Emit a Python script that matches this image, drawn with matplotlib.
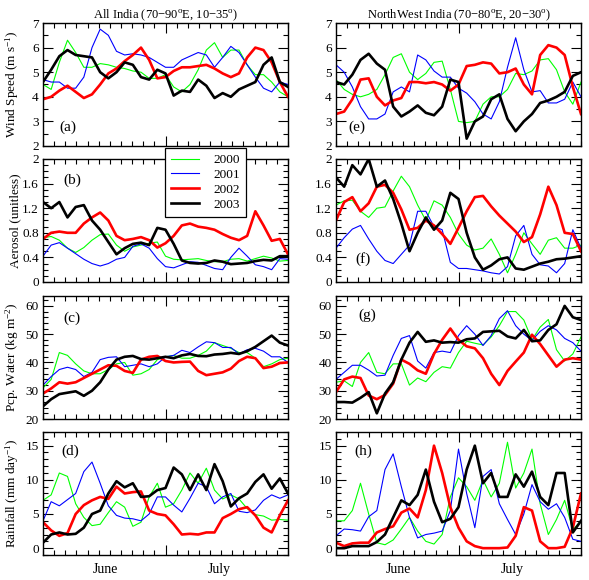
import numpy as np
import matplotlib
matplotlib.use("Agg")
import matplotlib.pyplot as plt
from matplotlib.ticker import MultipleLocator, FixedLocator, FormatStrFormatter

plt.rcParams['font.family'] = ['Liberation Serif', 'DejaVu Serif']
plt.rcParams['mathtext.fontset'] = 'custom'
plt.rcParams['mathtext.rm'] = 'Liberation Serif'
plt.rcParams['mathtext.it'] = 'Liberation Serif:italic'

years = ["2000", "2001", "2002", "2003"]
colors = ["#00ff00", "#0000ff", "#ff0000", "#000000"]
widths = [0.8, 0.8, 1.9, 1.9]

months = ["June", "July"]
month_pos = [5.6, 15.8]

# wind speed (m/s)
wind_all_2000 = [4.5, 4.3, 5.4, 6.3, 5.8, 5.2, 5.2, 5.35, 5.3, 5.2, 5.15, 5.05, 5.0, 4.75, 4.75, 4.9, 4.4, 4.2, 4.5, 5.1, 5.9, 6.2, 5.6, 5.9, 5.9, 5.3, 4.9, 4.9, 4.6, 4.2, 4.0]
wind_all_2001 = [4.7, 4.6, 4.6, 4.35, 4.35, 4.8, 6.0, 6.75, 6.5, 5.85, 5.7, 5.75, 5.7, 5.6, 5.4, 5.2, 5.2, 5.5, 5.65, 5.8, 5.7, 5.2, 5.6, 6.05, 5.8, 5.3, 4.8, 4.35, 4.2, 4.6, 4.5]
wind_all_2002 = [3.9, 4.0, 4.25, 4.45, 4.2, 3.95, 4.1, 4.5, 4.95, 5.15, 5.45, 5.7, 6.0, 5.5, 4.75, 4.8, 5.05, 5.2, 5.2, 5.25, 5.3, 5.15, 4.95, 4.8, 4.95, 5.6, 6.0, 5.9, 5.4, 4.6, 4.0]
wind_all_2003 = [4.6, 5.1, 5.65, 5.9, 5.7, 5.65, 5.6, 5.0, 4.75, 5.0, 5.4, 5.3, 4.8, 4.7, 5.1, 4.95, 4.05, 4.25, 4.2, 4.7, 4.45, 3.95, 4.15, 4.0, 4.3, 4.45, 4.6, 5.3, 5.6, 4.6, 4.4]
wind_nw_2000 = [4.7, 4.3, 4.1, 4.0, 4.1, 4.3, 4.9, 5.6, 5.75, 5.0, 4.7, 4.95, 5.4, 5.45, 4.3, 3.0, 2.95, 3.0, 3.7, 4.0, 4.0, 4.3, 4.95, 4.9, 5.05, 5.5, 5.55, 5.1, 4.2, 3.7, 4.6]
wind_nw_2001 = [5.3, 5.0, 4.4, 3.6, 3.1, 3.1, 3.3, 4.2, 4.4, 4.2, 5.7, 5.5, 5.05, 4.8, 4.8, 4.35, 4.15, 3.8, 3.3, 3.1, 3.8, 5.2, 6.4, 5.1, 4.2, 4.25, 3.75, 3.75, 3.9, 4.6, 4.0]
wind_nw_2002 = [3.3, 3.4, 3.9, 4.7, 4.75, 4.0, 3.65, 3.85, 3.95, 4.6, 4.6, 4.55, 4.6, 4.5, 4.25, 4.5, 5.25, 5.3, 5.4, 5.35, 4.95, 5.0, 5.15, 4.5, 4.1, 5.7, 6.1, 6.0, 5.7, 4.4, 3.3]
wind_nw_2003 = [4.6, 4.5, 4.9, 5.5, 5.75, 5.35, 5.1, 3.6, 3.2, 3.4, 3.65, 3.35, 3.25, 3.6, 4.7, 4.6, 2.3, 3.0, 3.2, 3.9, 4.1, 3.1, 2.6, 3.0, 3.3, 3.75, 3.85, 4.0, 4.2, 4.85, 5.0]

# aerosol (unitless)
aer_all_2000 = [0.72, 0.74, 0.68, 0.55, 0.48, 0.56, 0.68, 0.77, 0.78, 0.6, 0.5, 0.57, 0.6, 0.63, 0.65, 0.42, 0.37, 0.36, 0.37, 0.38, 0.35, 0.33, 0.33, 0.37, 0.38, 0.34, 0.38, 0.42, 0.39, 0.34, 0.35]
aer_all_2001 = [0.42, 0.6, 0.64, 0.55, 0.46, 0.37, 0.3, 0.26, 0.3, 0.37, 0.4, 0.58, 0.62, 0.55, 0.38, 0.25, 0.23, 0.28, 0.33, 0.32, 0.27, 0.22, 0.2, 0.4, 0.55, 0.42, 0.28, 0.25, 0.2, 0.38, 0.37]
aer_all_2002 = [0.7, 0.8, 0.82, 0.8, 0.8, 0.95, 1.05, 1.13, 1.0, 0.75, 0.68, 0.7, 0.73, 0.68, 0.56, 0.63, 0.75, 0.92, 0.95, 0.9, 0.88, 0.85, 0.78, 0.72, 0.68, 0.75, 1.15, 0.92, 0.67, 0.7, 0.45]
aer_all_2003 = [1.3, 1.2, 1.3, 1.05, 1.22, 1.25, 1.0, 0.85, 0.65, 0.45, 0.55, 0.62, 0.64, 0.6, 0.88, 0.85, 0.62, 0.35, 0.31, 0.3, 0.31, 0.35, 0.33, 0.29, 0.3, 0.31, 0.34, 0.36, 0.35, 0.42, 0.42]
aer_nw_2000 = [1.25, 1.32, 1.33, 1.15, 1.05, 1.2, 1.22, 1.48, 1.72, 1.55, 1.25, 1.0, 1.32, 1.25, 1.05, 0.78, 0.6, 0.52, 0.55, 0.7, 0.45, 0.15, 0.45, 0.8, 0.62, 0.45, 0.68, 0.72, 0.55, 0.55, 0.6]
aer_nw_2001 = [0.55, 0.72, 0.86, 0.92, 0.7, 0.5, 0.35, 0.3, 0.45, 0.6, 1.15, 1.15, 0.9, 0.85, 0.32, 0.22, 0.22, 0.2, 0.18, 0.15, 0.13, 0.25, 0.75, 0.92, 0.45, 0.28, 0.26, 0.15, 0.3, 0.85, 0.55]
aer_nw_2002 = [1.0, 1.3, 1.38, 1.15, 1.28, 1.55, 1.58, 1.45, 1.18, 0.85, 0.88, 1.0, 0.92, 0.78, 0.62, 0.88, 1.15, 1.38, 1.4, 1.23, 1.08, 0.95, 0.82, 0.65, 0.73, 1.1, 1.55, 1.25, 0.8, 0.78, 0.5]
aer_nw_2003 = [1.7, 1.55, 1.9, 1.75, 2.0, 1.55, 1.65, 1.35, 0.95, 0.5, 0.8, 1.05, 0.85, 1.0, 1.45, 1.35, 0.8, 0.4, 0.2, 0.27, 0.37, 0.4, 0.22, 0.2, 0.25, 0.3, 0.33, 0.37, 0.38, 0.4, 0.42]

# precipitable water (kg/m2)
pw_all_2000 = [31, 34, 43.5, 42.5, 39.5, 37, 36, 36, 37.5, 39.5, 40, 35.5, 36, 37.5, 41, 42, 42.5, 41.5, 41.5, 42.5, 44, 47, 46, 45, 43.5, 43.5, 41.5, 38.5, 39.5, 41, 41.5]
pw_all_2001 = [32, 35, 37.5, 38.3, 37.5, 35, 36.5, 41, 41.8, 42, 38.5, 39, 39.5, 38.5, 39.5, 42, 42.5, 44.3, 43.5, 45.5, 47.3, 47, 45.3, 45.3, 43, 44.5, 45, 44, 42, 42, 40]
pw_all_2002 = [29, 30.8, 33, 32.5, 33, 34.5, 36, 37.5, 39, 38.8, 37, 36.3, 41, 42, 42.3, 40.5, 40, 40.2, 40.3, 37, 35.5, 36, 36.5, 37.8, 40.5, 42, 41.5, 38, 38.5, 39.8, 40]
pw_all_2003 = [24.5, 27, 28.8, 29.3, 29.8, 28.2, 30, 33, 37.5, 41, 42, 42.3, 41.2, 41, 41.5, 42, 41.5, 42.5, 43, 42.3, 42.2, 42.8, 43, 43.4, 43, 44, 45.5, 47.5, 49.5, 47, 46]
pw_nw_2000 = [33, 33.5, 31.5, 40, 43.5, 36.5, 36, 39.5, 39.5, 32, 34.5, 33.2, 36.5, 38.5, 38, 43.5, 47.5, 46.8, 46.2, 49, 53, 58, 58, 55, 48, 52.5, 55.2, 44.5, 40.5, 43, 49]
pw_nw_2001 = [34, 36.5, 39, 39, 37.3, 35.2, 35.5, 42.5, 48.5, 49.5, 40.5, 38, 43.5, 44, 43.5, 49.5, 53, 50, 46, 49.5, 55.5, 58.3, 53, 50, 47.8, 51, 53, 51.5, 48.5, 47, 44]
pw_nw_2002 = [29.5, 34, 35, 34.5, 28.3, 27, 28.5, 32.5, 41, 39.5, 37.2, 36, 43, 48, 52, 48, 45.7, 45, 41.5, 36, 32, 37, 40.3, 43.5, 49.8, 46.5, 42.5, 38.5, 41, 41.5, 41]
pw_nw_2003 = [26, 26, 25.8, 27.5, 29.5, 22, 29, 33, 41, 47, 50.8, 47.3, 47.8, 47, 47.2, 47, 48.2, 48.5, 50.8, 51, 51.2, 49.2, 48.5, 51.5, 47.5, 47.8, 51.5, 53.5, 60, 56, 55]

# rainfall (mm/day)
rain_all_2000 = [7, 7.8, 11, 10.5, 6.5, 4.5, 3.3, 3.5, 5.2, 6.8, 6.0, 3.2, 3.8, 7.5, 9.5, 6.0, 6.5, 8.5, 11, 9.5, 11.7, 8.5, 7.2, 7.8, 7.2, 5.8, 4.9, 4.7, 4.1, 4.2, 4.1]
rain_all_2001 = [4, 6.8, 6.2, 7.1, 8, 11.2, 12.6, 9.5, 6.2, 4.8, 4.4, 4.3, 4, 5, 7.5, 7.5, 6.3, 5.3, 7.3, 9.5, 9, 6.5, 7.5, 8, 5.4, 5.2, 5.6, 7, 7.8, 7.3, 7.8]
rain_all_2002 = [3.8, 2.6, 1.8, 2.2, 5, 6.3, 7, 7.5, 7.2, 9, 8, 8.2, 8.3, 5.5, 5, 4.8, 3.5, 2.0, 2.1, 2.0, 2.3, 2.3, 4.4, 5, 5.7, 6, 4.8, 3, 2.3, 4.8, 7]
rain_all_2003 = [0.8, 2, 2.3, 2, 2.1, 3, 5, 5.5, 8, 9.8, 8.9, 9.5, 7.5, 7.6, 8.5, 8.8, 11.8, 10.8, 8.5, 10.8, 8.5, 12.3, 9.8, 6.1, 7.3, 8, 9.7, 10.8, 8.7, 10.2, 8]
rain_nw_2000 = [4, 4, 5.5, 9.5, 5, 0.8, 0.5, 1.2, 2.8, 4.5, 2.5, 1, 0.6, 2, 7.5, 10.3, 9, 7, 10, 7.5, 9.5, 15.5, 8.8, 11, 14.5, 6.5, 2, 4.2, 7, 2.7, 4]
rain_nw_2001 = [1.8, 2.8, 2.7, 2.5, 4.6, 5.5, 11.5, 13.8, 9, 4.5, 1.5, 2, 2.2, 2.5, 5.5, 14.5, 8, 3, 10.5, 11.5, 6.5, 4.2, 2, 5, 9.3, 6.8, 5.7, 6.5, 4.5, 1.3, 1]
rain_nw_2002 = [0.8, 0.3, 0.7, 0.8, 0.8, 2.3, 2.8, 3.2, 5.2, 5.8, 4.5, 8.5, 15, 11, 6, 3, 1, 0.3, 0, 0, 0, 0.1, 1.8, 6.0, 5.5, 1, 0, 0, 0.2, 3, 8]
rain_nw_2003 = [0, 0, 0.3, 0.3, 0.3, 0.9, 2, 4.5, 7, 6.3, 7.8, 11.5, 6.8, 3.8, 4.3, 6, 11.5, 15, 9.5, 11, 7.5, 7.5, 10.8, 9, 11.2, 7.5, 6.3, 11, 11, 2.3, 4]

time = np.linspace(0, 22, 31)  # June 1 .. July 31 on the plot axis

fig = plt.figure(figsize=(5.89, 5.80), dpi=100)

W, H = 589.0, 580.0
col_left = [43, 336]
row_top = [23, 159, 296, 432]
ax_w, ax_h = 245, 123


def drawPanel(ax, series, ylim, major, minor, fmt, label, labelpos):
    for vals, c, w, yr in zip(series, colors, widths, years):
        ax.plot(time, vals, color=c, lw=w, label=yr, solid_joinstyle='round')
    ax.set_xlim(0, 22)
    ax.set_ylim(*ylim)
    ax.xaxis.set_major_locator(FixedLocator([11]))
    ax.xaxis.set_minor_locator(MultipleLocator(1))
    ax.yaxis.set_major_locator(MultipleLocator(major))
    ax.yaxis.set_minor_locator(MultipleLocator(minor))
    ax.yaxis.set_major_formatter(FormatStrFormatter(fmt))
    ax.tick_params(which='both', direction='in', top=True, right=True, width=0.8)
    ax.tick_params(which='major', length=7, labelsize=9.5, pad=3)
    ax.tick_params(which='minor', length=3.6)
    ax.set_xticklabels([])
    for s in ax.spines.values():
        s.set_linewidth(1.0)
    ax.text(labelpos[0], labelpos[1], label, transform=ax.transAxes,
            fontsize=11, ha='center', va='center')


panels = [
    # (row, col, series, ylim, major, minor, fmt, label, labelpos)
    (0, 0, [wind_all_2000, wind_all_2001, wind_all_2002, wind_all_2003], (2, 7), 1, 0.5, '%g', '(a)', (0.1, 0.155)),
    (1, 0, [aer_all_2000, aer_all_2001, aer_all_2002, aer_all_2003], (0, 2), 0.4, 0.1, '%g', '(b)', (0.12, 0.83)),
    (2, 0, [pw_all_2000, pw_all_2001, pw_all_2002, pw_all_2003], (20, 63.5), 10, 2, '%g', '(c)', (0.12, 0.82)),
    (3, 0, [rain_all_2000, rain_all_2001, rain_all_2002, rain_all_2003], (-1, 17), 5, 1, '%g', '(d)', (0.11, 0.84)),
    (0, 1, [wind_nw_2000, wind_nw_2001, wind_nw_2002, wind_nw_2003], (2, 7), 1, 0.5, '%g', '(e)', (0.085, 0.15)),
    (1, 1, [aer_nw_2000, aer_nw_2001, aer_nw_2002, aer_nw_2003], (0, 2), 0.4, 0.1, '%g', '(f)', (0.11, 0.19)),
    (2, 1, [pw_nw_2000, pw_nw_2001, pw_nw_2002, pw_nw_2003], (20, 63.5), 10, 2, '%g', '(g)', (0.127, 0.845)),
    (3, 1, [rain_nw_2000, rain_nw_2001, rain_nw_2002, rain_nw_2003], (-1, 17), 5, 1, '%g', '(h)', (0.11, 0.84)),
]

ylabels = ["Wind Speed (m s$^{-1}$)", "Aerosol (unitless)",
           "Pcp. Water (kg m$^{-2}$)", "Rainfall (mm day$^{-1}$)"]
titles = ["All India (70\u221290$^\\mathrm{o}$E, 10\u221235$^\\mathrm{o}$)",
          "NorthWest India (70\u221280$^\\mathrm{o}$E, 20\u221230$^\\mathrm{o}$)"]

axes = {}
for row, col, series, ylim, major, minor, fmt, label, labelpos in panels:
    rect = [col_left[col] / W, 1 - (row_top[row] + ax_h) / H, ax_w / W, ax_h / H]
    ax = fig.add_axes(rect)
    drawPanel(ax, series, ylim, major, minor, fmt, label, labelpos)
    axes[(row, col)] = ax
    if col == 0:
        ax.set_ylabel(ylabels[row], fontsize=9.5)
        ax.yaxis.set_label_coords(-0.088, 0.5)
    if row == 0:
        ax.set_title(titles[col], fontsize=9, pad=3)
    if row == 3:
        for m, p in zip(months, month_pos):
            ax.text(p, -0.12, m, transform=ax.get_xaxis_transform(),
                    fontsize=10, ha='center', va='center')

# legend sits across panels (a) and (b)
handles, labs = axes[(1, 0)].get_legend_handles_labels()
leg = fig.legend(handles, labs, loc='upper left', bbox_to_anchor=(165 / W, 1 - 148 / H),
                 borderaxespad=0, fontsize=9.5, handlelength=2.1, handletextpad=1.1,
                 labelspacing=0.2, borderpad=0.45, fancybox=False, framealpha=1)
leg.get_frame().set_edgecolor('black')
leg.get_frame().set_linewidth(0.9)

fig.savefig("out.png", dpi=100)
